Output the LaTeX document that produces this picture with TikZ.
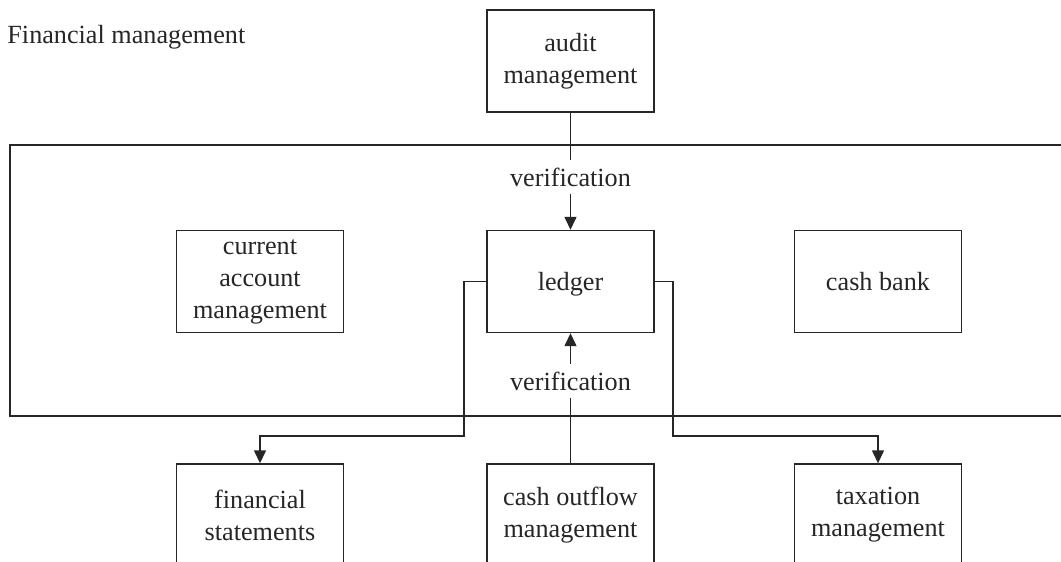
\documentclass[tikz,border=0pt]{standalone}
\usepackage{fontspec}
\setmainfont{Liberation Serif}
\usetikzlibrary{arrows.meta}
\definecolor{ink}{HTML}{262626}
\tikzset{
  every picture/.style={x=0.5pt,y=-0.5pt},
  line/.style={draw=ink,line width=0.7pt},
  box/.style={line,rectangle,minimum width=83.5pt,minimum height=51pt,
    inner sep=0pt,align=center,text=ink,font=\fontsize{13.1}{16}\selectfont},
  lbl/.style={rectangle,inner sep=0pt,minimum height=16.5pt,text=ink,
    font=\fontsize{13.1}{16}\selectfont},
  arr/.style={line,-{Triangle[width=6pt,length=6.5pt]}}
}
\begin{document}
\begin{tikzpicture}
\useasboundingbox (0,0) rectangle (1061,562);
\clip (0,0) rectangle (1061,562);

% title
\node[lbl,anchor=west] (title) at (7,37) {Financial management};

% enclosing frame, open on the right
\draw[line] (1070,145) -- (10,145) -- (10,416) -- (1070,416);

% boxes
\node[box] (audit)  at (570.5,61)    {audit\\management};
\node[box] (curacc) at (260,281.5)   {current\\account\\management};
\node[box,text depth=0pt] (ledger) at (570.5,281.5) {ledger};
\node[box] (cash)   at (878,281.5)   {cash bank};
\node[box] (fin)    at (260,515)     {financial\\statements};
\node[box] (outflow) at (570.5,515)  {cash outflow\\management};
\node[box] (tax)    at (878,515)     {taxation\\management};

% verification labels
\node[lbl] (vtop) at (570.5,177) {verification};
\node[lbl] (vbot) at (570.5,381) {verification};

% connectors
\draw[line] (audit) -- (vtop);
\draw[arr] (vtop) -- (ledger);
\draw[line] (outflow) -- (vbot);
\draw[arr] (vbot) -- (ledger);

\coordinate (jl) at (464,436);
\coordinate (jr) at (673,436);
\draw[arr] (ledger.west) -| (jl) -| (fin.north);
\draw[arr] (ledger.east) -| (jr) -| (tax.north);
\end{tikzpicture}
\end{document}
